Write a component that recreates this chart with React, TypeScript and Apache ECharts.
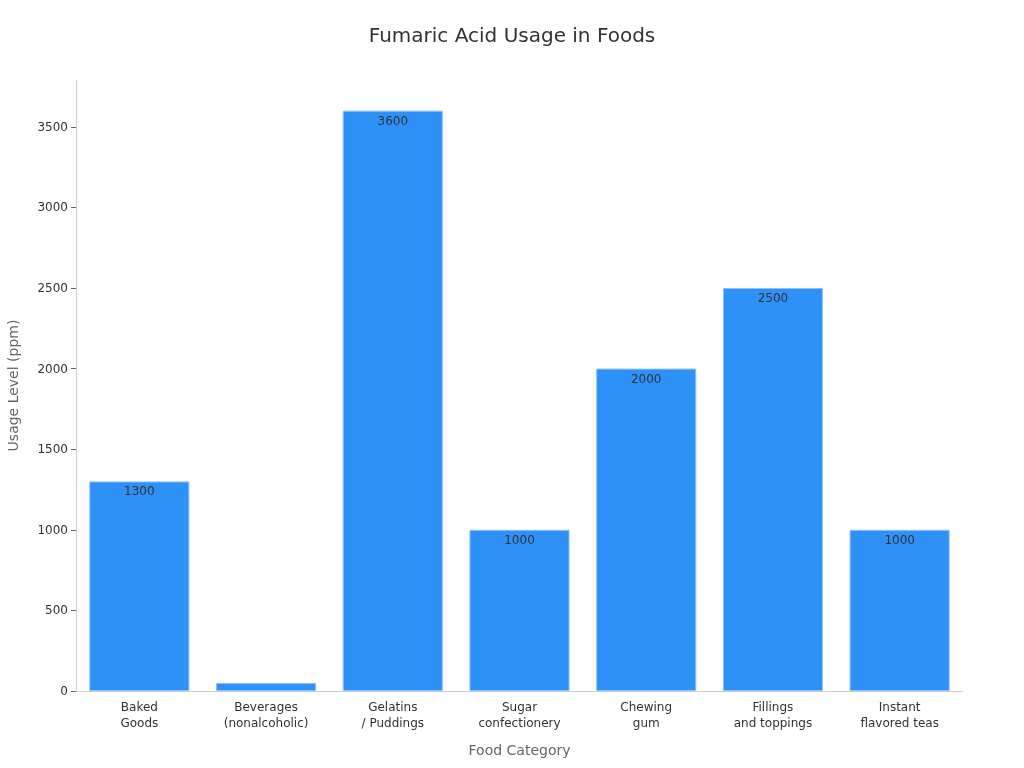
import React, { useEffect, useRef } from 'react';
import * as echarts from 'echarts';

const categories = [
  'Baked\nGoods',
  'Beverages\n(nonalcoholic)',
  'Gelatins\n/ Puddings',
  'Sugar\nconfectionery',
  'Chewing\ngum',
  'Fillings\nand toppings',
  'Instant\nflavored teas',
];
const usage = [1300, 50, 3600, 1000, 2000, 2500, 1000];

const FONT = 'DejaVu Sans';

const App: React.FC = () => {
  const chartRef = useRef<HTMLDivElement>(null);

  useEffect(() => {
    if (!chartRef.current) return;
    const chart = echarts.init(chartRef.current, undefined, { renderer: 'svg' });
    chart.setOption({
      animation: false,
      textStyle: { fontFamily: FONT },
      title: {
        text: 'Fumaric Acid Usage in Foods',
        left: 'center',
        top: 20,
        textStyle: { fontSize: 20, fontWeight: 'normal', color: '#333', fontFamily: FONT },
      },
      grid: { left: 76, right: 61, top: 80, bottom: 77, outerBoundsMode: 'none' },
      xAxis: {
        type: 'category',
        data: categories,
        name: 'Food Category',
        nameLocation: 'middle',
        nameGap: 52,
        nameTextStyle: { fontSize: 14, color: '#666' },
        axisLine: { lineStyle: { color: '#ccc' } },
        axisTick: { alignWithLabel: true, lineStyle: { color: '#666' } },
        axisLabel: { fontSize: 12, color: '#333', lineHeight: 16, interval: 0 },
      },
      yAxis: {
        type: 'value',
        min: 0,
        max: 3790,
        interval: 500,
        name: 'Usage Level (ppm)',
        nameLocation: 'middle',
        nameGap: 56,
        nameTextStyle: { fontSize: 14, color: '#666' },
        axisLine: { show: true, lineStyle: { color: '#ccc' } },
        axisTick: { show: true, lineStyle: { color: '#666' } },
        axisLabel: { fontSize: 12, color: '#333', showMaxLabel: false, formatter: (v: number) => String(v) },
        splitLine: { show: false },
      },
      series: [
        {
          type: 'bar',
          data: usage,
          barCategoryGap: '21%',
          itemStyle: { color: '#2e91f7', borderColor: '#8fc3f7', borderWidth: 1 },
          label: {
            show: true,
            position: 'insideTop',
            distance: 4,
            color: '#333',
            fontSize: 12,
            // tiny bars cannot hold their label
            formatter: (p: any) => (p.value < 100 ? '' : String(p.value)),
          },
        },
      ],
    });
    return () => chart.dispose();
  }, []);

  return (
    <div
      ref={chartRef}
      style={{ position: 'fixed', left: 0, top: 0, width: 1024, height: 768 }}
    />
  );
};

export default App;
